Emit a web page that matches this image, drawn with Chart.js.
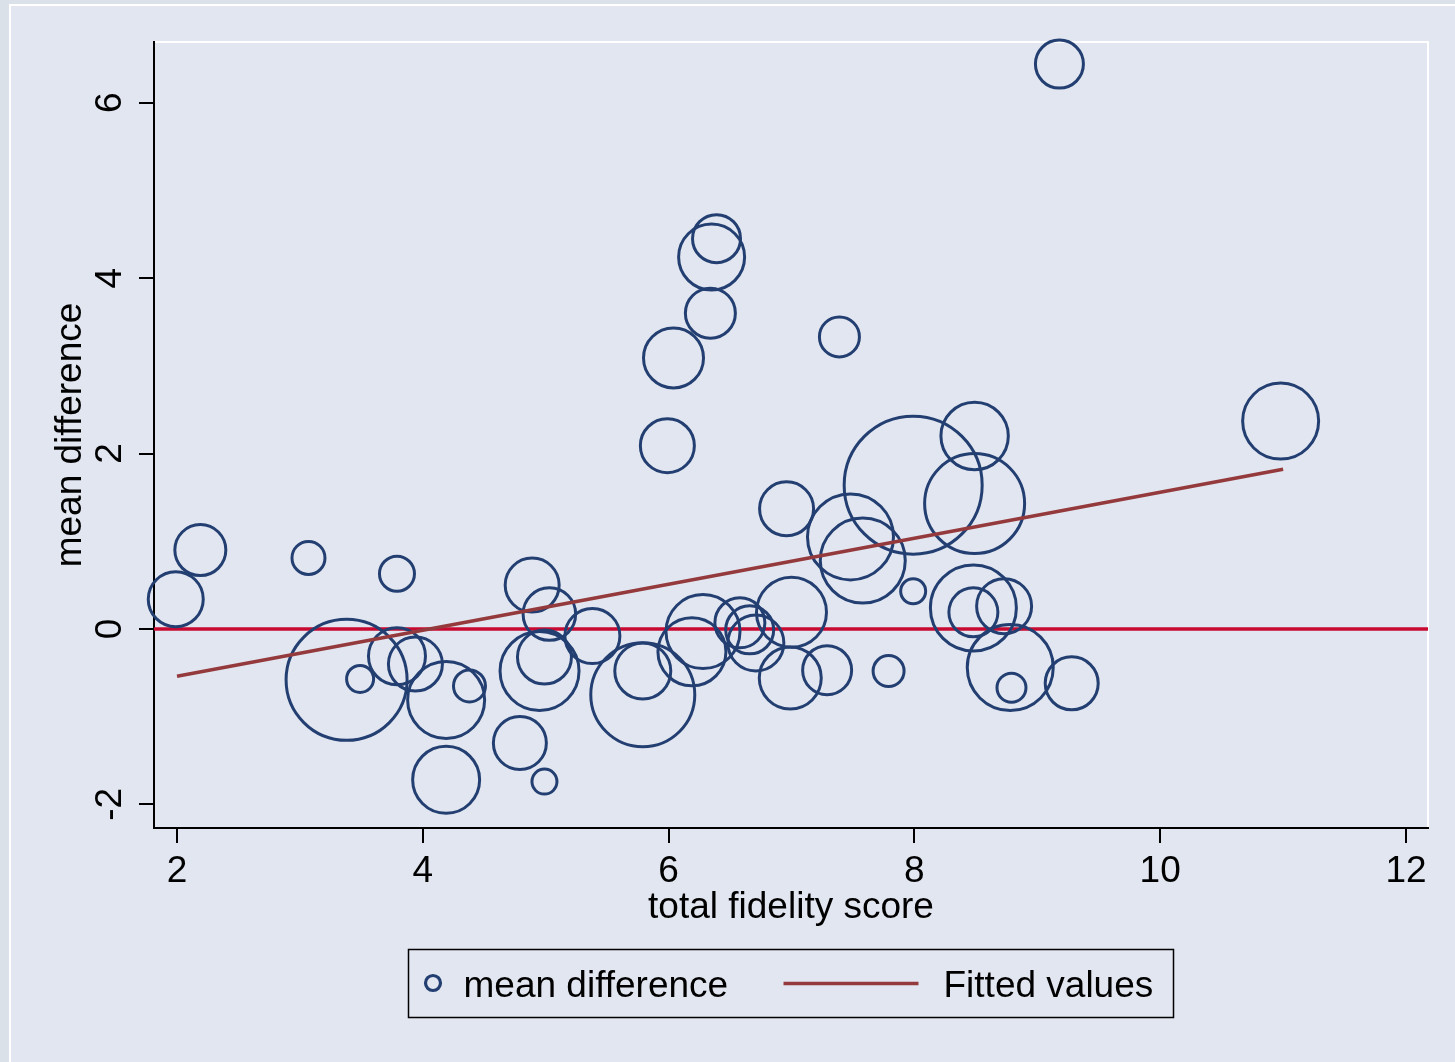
<!DOCTYPE html>
<html>
<head>
<meta charset="utf-8">
<script src="https://cdn.jsdelivr.net/npm/chart.js@4.4.1/dist/chart.umd.min.js"></script>
<style>
  html, body { margin: 0; padding: 0; background: #e2e6f0; }
</style>
</head>
<body>
<canvas id="myChart" width="1455" height="1062"></canvas>
<script>
  const xTicks = [2, 4, 6, 8, 10, 12];
  const yTicks = [-2, 0, 2, 4, 6];
  // total fidelity score, mean difference, bubble weight (per study)
  const score = [1.99, 2.19, 3.07, 3.79, 3.38, 3.49, 3.79, 3.94, 4.19, 4.38,
                 4.19, 4.79, 4.99, 4.89, 5.03, 4.95, 4.99, 5.38, 5.79, 5.79,
                 6.19, 6.28, 6.58, 6.66, 6.71, 7.00, 6.99, 7.29, 7.79, 6.96,
                 7.48, 7.58, 7.99, 8.49, 8.49, 7.99, 8.48, 8.48, 8.73, 8.78,
                 8.79, 9.28, 10.98, 9.18, 6.39, 6.35, 6.34, 6.04, 5.99, 7.39];
  const meanDiff = [0.34, 0.90, 0.81, 0.63, -0.58, -0.57, -0.31, -0.40, -0.81, -0.65,
                    -1.72, -1.30, -1.74, 0.50, 0.17, -0.48, -0.32, -0.08, -0.75, -0.48,
                    -0.26, -0.03, 0.07, -0.01, -0.16, 0.19, -0.56, -0.47, -0.48, 1.37,
                    1.05, 0.78, 1.64, 2.20, 1.43, 0.43, 0.24, 0.19, 0.26, -0.44,
                    -0.67, -0.62, 2.37, 6.44, 4.45, 4.24, 3.60, 3.09, 2.09, 3.33];
  const weight = [27.5, 25.5, 16.5, 17.5, 60.5, 13.5, 28.5, 27, 38.5, 16,
                  33.5, 26.5, 12.5, 27, 26.3, 39.5, 27, 27.5, 52, 28,
                  34, 37, 25, 24, 28, 35, 31, 24.5, 15.5, 27,
                  43, 42.5, 69, 33.7, 50, 12.5, 43, 24.5, 27.5, 43,
                  14.5, 26.5, 38, 24, 24, 33, 25, 30, 27, 20];
  const fitX = [2, 11];
  const fitY = [-0.54, 1.82];
  const refY = 0;

  const xMin = 1.813, xMax = 12.179;
  const yMin = -2.269, yMax = 6.692;

  const NAVY = '#233f72';
  const MAROON = '#953a3c';
  const RED = '#c80a32';
  const FONT = "'Liberation Sans', Arial, sans-serif";

  Chart.defaults.font.family = FONT;
  Chart.defaults.color = '#000';

  const frame = {
    id: 'frame',
    beforeDraw(chart) {
      const {ctx, chartArea: a, width, height} = chart;
      ctx.save();
      ctx.fillStyle = '#dbe1e9';
      ctx.fillRect(0, 0, width, height);
      ctx.fillStyle = '#e2e6f0';
      ctx.fillRect(10, 5, width, height);
      ctx.strokeStyle = '#ffffff';
      ctx.lineWidth = 2;
      ctx.beginPath();
      ctx.moveTo(10, height); ctx.lineTo(10, 5); ctx.lineTo(width, 5);
      ctx.stroke();
      ctx.beginPath();
      ctx.moveTo(a.left, a.top); ctx.lineTo(a.right, a.top); ctx.lineTo(a.right, a.bottom);
      ctx.stroke();
      ctx.restore();
    }
  };

  // stata style legend box under the axis title
  const boxLegend = {
    id: 'boxLegend',
    afterDraw(chart) {
      const {ctx, chartArea: a} = chart;
      const ds = chart.data.datasets;
      const w = 765, h = 68;
      const left = Math.round((a.left + a.right) / 2 - w / 2) - 0.5;
      const top = 949.5;
      const mid = top + h / 2;
      ctx.save();
      ctx.strokeStyle = '#000';
      ctx.lineWidth = 1.5;
      ctx.strokeRect(left, top, w, h);
      ctx.strokeStyle = ds[0].borderColor;
      ctx.lineWidth = 3.2;
      ctx.beginPath();
      ctx.arc(left + 24.5, mid - 0.5, 7.5, 0, Math.PI * 2);
      ctx.stroke();
      ctx.strokeStyle = ds[1].borderColor;
      ctx.lineWidth = 3.5;
      ctx.beginPath();
      ctx.moveTo(left + 375, mid); ctx.lineTo(left + 510, mid);
      ctx.stroke();
      ctx.fillStyle = '#000';
      ctx.font = '37px ' + FONT;
      ctx.textBaseline = 'alphabetic';
      ctx.fillText(ds[0].label, left + 55, top + 47.5);
      ctx.fillText(ds[1].label, left + 535, top + 47.5);
      ctx.restore();
    }
  };

  const ctx = document.getElementById('myChart');
  new Chart(ctx, {
    type: 'bubble',
    data: {
      datasets: [{
        label: 'mean difference',
        data: score.map((v, i) => ({x: v, y: meanDiff[i], r: weight[i]})),
        borderColor: NAVY,
        backgroundColor: 'rgba(0,0,0,0)',
        borderWidth: 3,
        clip: false,
        order: 2
      }, {
        type: 'line',
        label: 'Fitted values',
        data: fitX.map((v, i) => ({x: v, y: fitY[i]})),
        borderColor: MAROON,
        borderWidth: 3.5,
        pointRadius: 0,
        order: 1
      }, {
        type: 'line',
        label: 'zero',
        data: [{x: xMin, y: refY}, {x: xMax, y: refY}],
        borderColor: RED,
        borderWidth: 3.5,
        pointRadius: 0,
        order: 3
      }]
    },
    options: {
      responsive: false,
      animation: false,
      layout: { autoPadding: false, padding: { top: 42, right: 27, bottom: 134, left: 0 } },
      plugins: {
        legend: { display: false },
        tooltip: { enabled: false }
      },
      scales: {
        x: {
          type: 'linear',
          min: xMin,
          max: xMax,
          afterBuildTicks: s => { s.ticks = xTicks.map(v => ({value: v})); },
          afterFit: s => { s.height = 100; },
          border: { color: '#000', width: 2 },
          grid: { drawOnChartArea: false, tickLength: 15, color: '#000', lineWidth: 2 },
          ticks: { maxRotation: 0, autoSkip: false, padding: 10, color: '#000',
                   font: { size: 37, lineHeight: 1 } },
          title: { display: true, text: 'total fidelity score', color: '#000',
                   font: { size: 37, lineHeight: 1 }, padding: { top: 0, bottom: 2 } }
        },
        y: {
          type: 'linear',
          min: yMin,
          max: yMax,
          afterBuildTicks: s => { s.ticks = yTicks.map(v => ({value: v})); },
          afterFit: s => { s.width = 154; },
          border: { color: '#000', width: 2 },
          grid: { drawOnChartArea: false, tickLength: 15, color: '#000', lineWidth: 2 },
          ticks: { minRotation: 90, maxRotation: 90, crossAlign: 'center', padding: 12,
                   color: '#000', font: { size: 37, lineHeight: 1 } },
          title: { display: true, text: 'mean difference', color: '#000',
                   font: { size: 37, lineHeight: 1 }, padding: { top: 52, bottom: 0 } }
        }
      }
    },
    plugins: [frame, boxLegend]
  });
</script>
</body>
</html>
